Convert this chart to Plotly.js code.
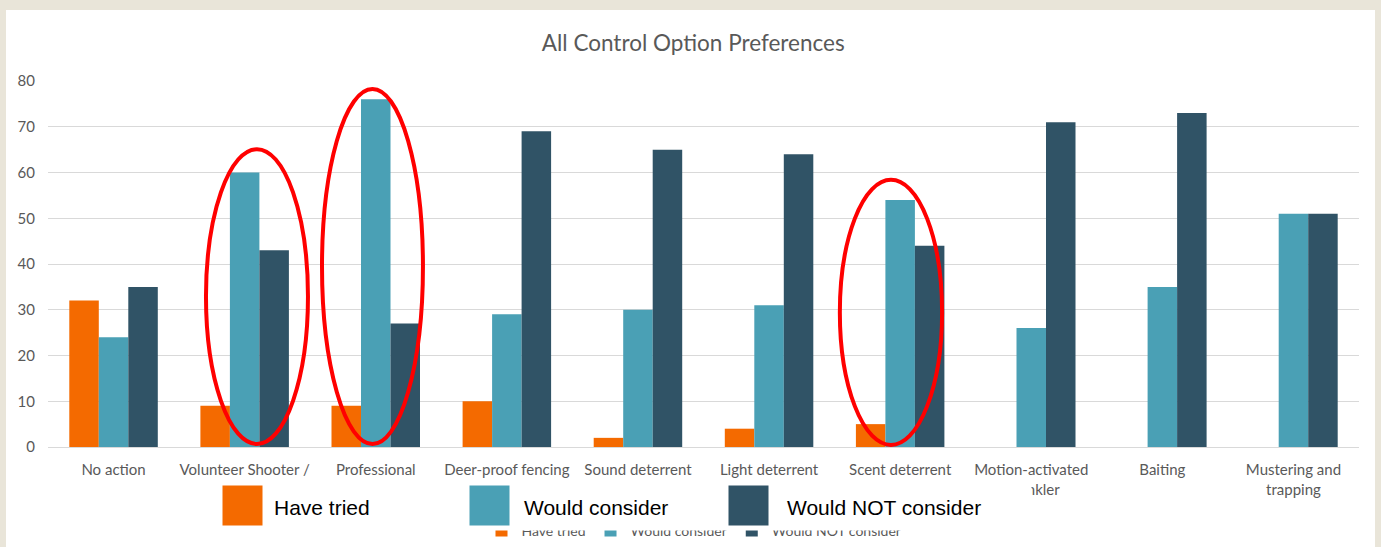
<!DOCTYPE html>
<html>
<head>
<meta charset="utf-8">
<script src="https://cdn.plot.ly/plotly-3.0.1.min.js"></script>
<style>html,body{margin:0;padding:0;background:#e9e5d9;}#chart{width:1381px;height:547px;}</style>
</head>
<body>
<div id="chart"></div>
<script>
const categories = ["No action", "Volunteer Shooter /", "Professional", "Deer-proof fencing", "Sound deterrent", "Light deterrent", "Scent deterrent", "Motion-activated<br>sprinkler", "Baiting", "Mustering and<br>trapping"];
const haveTried = [32, 9, 9, 10, 2, 4, 5, 0, 0, 0];
const wouldConsider = [24, 60, 76, 29, 30, 31, 54, 26, 35, 51];
const wouldNotConsider = [35, 43, 27, 69, 65, 64, 44, 71, 73, 51];
const seriesNames = ["Have tried", "Would consider", "Would NOT consider"];
const yTicks = [0, 10, 20, 30, 40, 50, 60, 70, 80];

const colors = ["#f46a00", "#4aa0b5", "#305366"];
const W = 1381, H = 547;
const mL = 48, mR = 22, mT = 81, mB = 100;
const pw = W - mL - mR, ph = H - mT - mB;
const px = v => (v - mL) / pw;
const py = v => (H - mB - v) / ph;

const traces = [haveTried, wouldConsider, wouldNotConsider].map((vals, i) => ({
  type: "bar", x: categories, y: vals, name: seriesNames[i],
  marker: {color: colors[i]}, hoverinfo: "none"
}));

const font = "Lato, 'Open Sans', sans-serif";
const ellipse = (x0, x1, y0, y1) => ({type: "circle", xref: "x", yref: "y", x0, x1, y0, y1,
  line: {color: "#ff0000", width: 4}, layer: "above"});

const annotations = [
  {xref: "paper", yref: "paper", x: px(215), y: py(478), xanchor: "left", yanchor: "top",
   text: " ", showarrow: false, bgcolor: "#ffffff", width: 815, height: 51, borderpad: 0}
];
const boxX = [222, 469, 728], textX = [272, 522, 785];
seriesNames.forEach((n, i) => {
  annotations.push({xref: "paper", yref: "paper", x: px(boxX[i]), y: py(485), xanchor: "left", yanchor: "top",
    text: " ", showarrow: false, bgcolor: colors[i], width: 39, height: 39, borderpad: 0});
  annotations.push({xref: "paper", yref: "paper", x: px(textX[i]), y: py(507), xanchor: "left", yanchor: "middle",
    text: n, showarrow: false, font: {family: "Liberation Sans, Arial, sans-serif", size: 21, color: "#000000"}});
});

const layout = {
  width: W, height: H,
  margin: {l: mL, r: mR, t: mT, b: mB, pad: 0, autoexpand: false},
  paper_bgcolor: "#e9e5d9", plot_bgcolor: "#ffffff",
  title: {text: "All Control Option Preferences", x: 0.502, xref: "container", y: 1 - 43 / H, yref: "container",
    xanchor: "center", yanchor: "middle", font: {family: font, size: 22.5, color: "#595959"}},
  barmode: "group", bargap: 0.325, bargroupgap: 0,
  xaxis: {type: "category", showgrid: false, showline: false, zeroline: false, ticks: "",
    ticklabelstandoff: 12,
    tickfont: {family: font, size: 15, color: "#595959"}, fixedrange: true, automargin: false},
  yaxis: {range: [0, 80], tickvals: yTicks, showgrid: true, gridcolor: "#d9d9d9", gridwidth: 1,
    zeroline: true, zerolinecolor: "#d9d9d9", zerolinewidth: 1, showline: false, ticks: "",
    ticklabelstandoff: 12, automargin: false,
    tickfont: {family: font, size: 15, color: "#595959"}, fixedrange: true},
  showlegend: true,
  legend: {orientation: "h", x: px(694), xanchor: "center", y: py(515), yanchor: "top",
    font: {family: font, size: 14, color: "#595959"}, bgcolor: "rgba(0,0,0,0)", itemwidth: 30},
  shapes: [
    {type: "rect", xref: "paper", yref: "paper", x0: px(6), x1: px(1375), y0: py(547), y1: py(10),
     fillcolor: "#ffffff", line: {width: 0}, layer: "below"},
    ellipse(0.705, 1.483, 0.65, 65.1),
    ellipse(1.59, 2.36, 0.65, 78.25),
    ellipse(5.54, 6.32, 0.45, 58.4)
  ],
  annotations: annotations
};

Plotly.newPlot("chart", traces, layout, {displayModeBar: false, staticPlot: true});
</script>
</body>
</html>
